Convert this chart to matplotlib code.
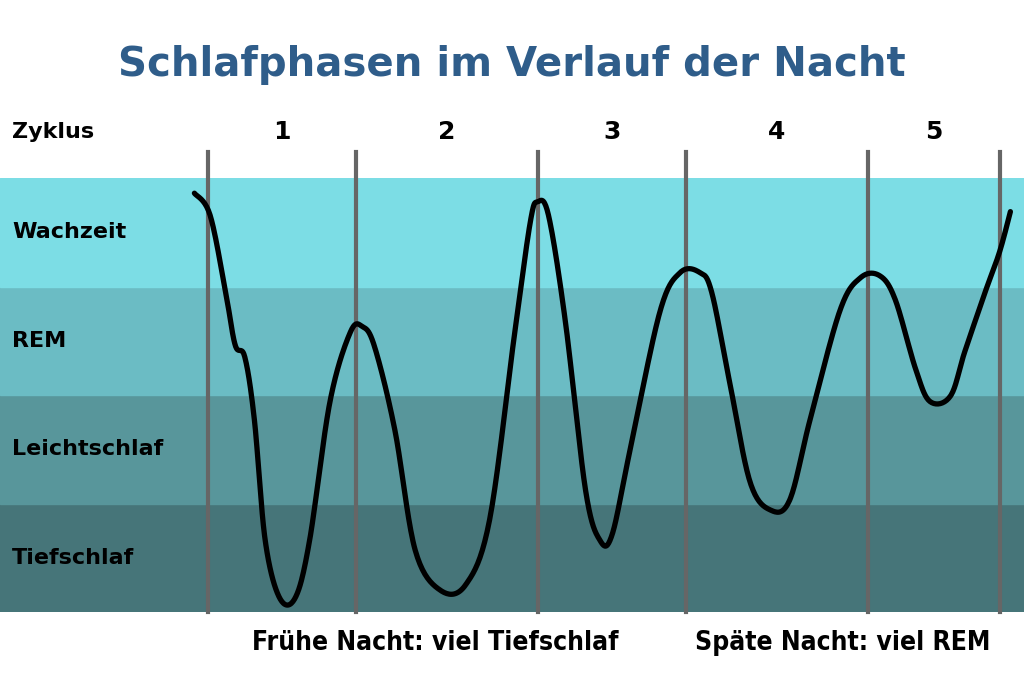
import numpy as np
import matplotlib
matplotlib.use("Agg")
from matplotlib import pyplot as plt

stages = ["Tiefschlaf", "Leichtschlaf", "REM", "Wachzeit"]
stage_colors = ["#467579", "#58969b", "#6bbcc4", "#7cdde5"]
cycles = ["1", "2", "3", "4", "5"]
cycle_bounds = [1.73, 2.97, 4.48, 5.72, 7.23, 8.33]   # hours

# hypnogram key points: time (h), stage level (0 = Tiefschlaf ... 4 = top of Wachzeit)
t_pts = [1.62, 1.75, 1.88, 1.96, 2.04, 2.12, 2.21, 2.33, 2.46, 2.58, 2.75, 2.92, 3.02,
         3.12, 3.29, 3.46, 3.67, 3.88, 4.08, 4.29, 4.42, 4.48, 4.57, 4.71, 4.88, 5.0,
         5.1, 5.25, 5.5, 5.67, 5.83, 5.93, 6.08, 6.25, 6.42, 6.58, 6.75, 7.0, 7.17,
         7.33, 7.46, 7.63, 7.75, 7.92, 8.04, 8.21, 8.33, 8.42]
lvl_pts = [3.86, 3.66, 2.95, 2.46, 2.35, 1.77, 0.66, 0.13, 0.13, 0.66, 1.94, 2.58, 2.63,
           2.45, 1.68, 0.57, 0.2, 0.25, 0.85, 2.58, 3.6, 3.78, 3.66, 2.69, 1.12, 0.66,
           0.71, 1.49, 2.77, 3.13, 3.13, 2.95, 2.12, 1.2, 0.94, 1.03, 1.77, 2.78, 3.08,
           3.1, 2.88, 2.24, 1.94, 1.99, 2.4, 2.95, 3.32, 3.69]


def smooth(x, y, n=20):
    # Catmull-Rom spline through the key points
    p = np.column_stack([x, y])
    p = np.vstack([p[0], p, p[-1]])
    out = []
    s = np.linspace(0, 1, n, endpoint=False)[:, None]
    for i in range(1, len(p) - 2):
        p0, p1, p2, p3 = p[i - 1], p[i], p[i + 1], p[i + 2]
        out.append(0.5 * ((2 * p1) + (-p0 + p2) * s + (2 * p0 - 5 * p1 + 4 * p2 - p3) * s ** 2
                          + (-p0 + 3 * p1 - 3 * p2 + p3) * s ** 3))
    out.append(p[-2][None, :])
    out = np.vstack(out)
    return out[:, 0], out[:, 1]


fig = plt.figure(figsize=(10.24, 6.83), dpi=100)
ax = fig.add_axes([0, 71 / 683, 1, 434 / 683])
ax.set_xlim(0, 1024 / 120)
ax.set_ylim(0, 4)
ax.axis("off")

for i, (name, c) in enumerate(zip(stages, stage_colors)):
    ax.axhspan(i, i + 1, color=c, zorder=0)
    ax.text(0.1, i + 0.5, name, fontsize=16, fontweight="bold", va="center", ha="left")

for b in cycle_bounds:
    ax.axvline(b, ymin=0, ymax=460 / 434, color="#666666", lw=3, clip_on=False, zorder=1)

for i, c in enumerate(cycles):
    mid = (cycle_bounds[i] + cycle_bounds[i + 1]) / 2
    ax.text(mid, 4.42, c, fontsize=18, fontweight="bold", ha="center", va="center")
ax.text(0.1, 4.42, "Zyklus", fontsize=16, fontweight="bold", ha="left", va="center")

xs, ys = smooth(t_pts, lvl_pts)
ax.plot(xs, ys, color="black", lw=3.8, solid_capstyle="round", zorder=3)

fig.text(0.5, 0.905, "Schlafphasen im Verlauf der Nacht", ha="center", va="center",
         fontsize=29, fontweight="bold", color="#2f5d8a")
fig.text(0.425, 0.058, "Frühe Nacht: viel Tiefschlaf", ha="center", va="center",
         fontsize=19, fontweight="bold", fontstretch="condensed", family="Liberation Sans Narrow")
fig.text(0.823, 0.058, "Späte Nacht: viel REM", ha="center", va="center",
         fontsize=19, fontweight="bold", fontstretch="condensed", family="Liberation Sans Narrow")

fig.savefig("out.png", dpi=100, facecolor="white")
